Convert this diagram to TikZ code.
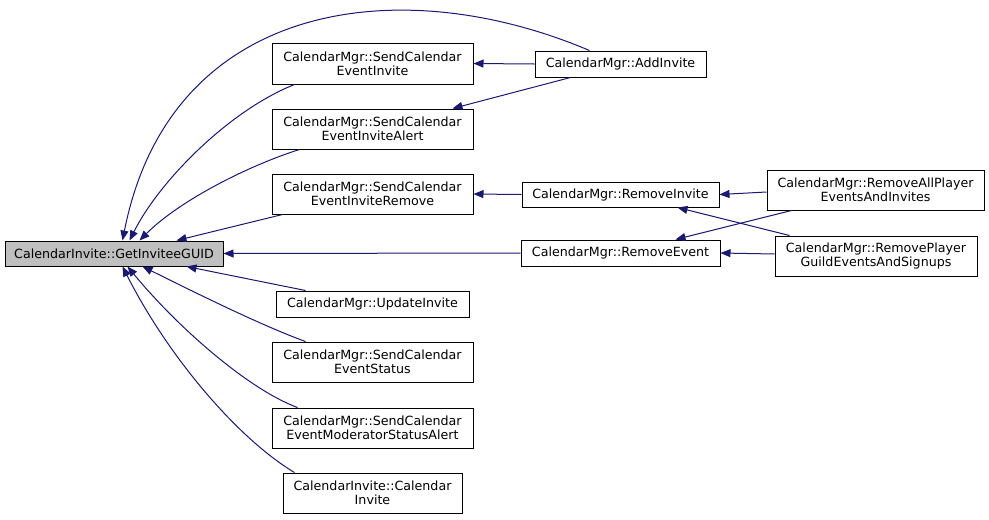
\documentclass[tikz,border=0pt]{standalone}
\usepackage{fontspec}
\setmainfont{DejaVu Sans}
\usetikzlibrary{arrows.meta,calc}
\definecolor{edgeblue}{HTML}{191970}
\definecolor{guidgray}{HTML}{BFBFBF}
\begin{document}
\begin{tikzpicture}[x=0.75pt,y=-0.75pt,
  box/.style={draw=black,line width=0.75pt,align=center,inner sep=0pt,fill=white,
    font=\fontsize{9.5}{10.5}\selectfont},
  edge/.style={draw=edgeblue,line width=0.75pt,-{Triangle[length=7.5pt,width=6pt]}}]
\useasboundingbox (0,0) rectangle (989,519);
% nodes
\node[box,fill=guidgray,minimum width=163.5pt,minimum height=18.75pt] (guid) at (114,253.5) {CalendarInvite::GetInviteeGUID};
\node[box,minimum width=150.75pt,minimum height=30.75pt] (sei) at (372.5,63.5) {CalendarMgr::SendCalendar\\EventInvite};
\node[box,minimum width=150.75pt,minimum height=30pt] (seia) at (372.5,129) {CalendarMgr::SendCalendar\\EventInviteAlert};
\node[box,minimum width=150.75pt,minimum height=30pt] (seir) at (372.5,194) {CalendarMgr::SendCalendar\\EventInviteRemove};
\node[box,minimum width=128.25pt,minimum height=19.5pt] (add) at (620.5,64) {CalendarMgr::AddInvite};
\node[box,minimum width=147.75pt,minimum height=18.75pt] (rinv) at (620.5,194.5) {CalendarMgr::RemoveInvite};
\node[box,minimum width=149.25pt,minimum height=19.5pt] (rev) at (620.5,253) {CalendarMgr::RemoveEvent};
\node[box,minimum width=162.75pt,minimum height=30pt] (rap) at (875.5,190) {CalendarMgr::RemoveAllPlayer\\EventsAndInvites};
\node[box,minimum width=151.5pt,minimum height=30pt] (rpg) at (876,256) {CalendarMgr::RemovePlayer\\GuildEventsAndSignups};
\node[box,minimum width=144.75pt,minimum height=19.5pt] (upd) at (372.5,304) {CalendarMgr::UpdateInvite};
\node[box,minimum width=150.75pt,minimum height=30pt] (ses) at (372.5,362) {CalendarMgr::SendCalendar\\EventStatus};
\node[box,minimum width=150.75pt,minimum height=30pt] (sems) at (372.5,428) {CalendarMgr::SendCalendar\\EventModeratorStatusAlert};
\node[box,minimum width=134.25pt,minimum height=30pt] (ci) at (372.5,493) {CalendarInvite::Calendar\\Invite};
% edges into GetInviteeGUID (top)
\draw[edge] ($(add.north west)+(55,0)$) .. controls (400,-30) and (170,0) .. ($(guid.north west)+(118,0)$);
\draw[edge] ($(sei.south west)+(23,0)$) .. controls (230,110) and (160,180) .. ($(guid.north west)+(125,0)$);
\draw[edge] ($(seia.south west)+(28,0)$) .. controls (250,165) and (180,200) .. ($(guid.north west)+(135,0)$);
\draw[edge] ($(seir.south west)+(11,0)$) -- ($(guid.north west)+(172,0)$);
\draw[edge] (rev.west) -- (guid.east);
% edges into GetInviteeGUID (bottom)
\draw[edge] ($(upd.north west)+(30,0)$) -- ($(guid.south west)+(182,0)$);
\draw[edge] ($(ses.north west)+(34,0)$) .. controls (260,325) and (190,290) .. ($(guid.south west)+(138,0)$);
\draw[edge] ($(sems.north west)+(26,0)$) .. controls (250,390) and (180,330) .. ($(guid.south west)+(123,0)$);
\draw[edge] ($(ci.north west)+(12,0)$) .. controls (240,440) and (170,360) .. ($(guid.south west)+(118,0)$);
% other edges
\draw[edge] (add.west) -- (sei.east);
\draw[edge] ($(add.south west)+(36,0)$) -- ($(seia.north east)+(-21,0)$);
\draw[edge] (rinv.west) -- (seir.east);
\draw[edge] ($(rap.west)+(0,2)$) -- (rinv.east);
\draw[edge] ($(rap.south west)+(25,0)$) -- ($(rev.north east)+(-45,0)$);
\draw[edge] ($(rpg.north west)+(15,0)$) -- ($(rinv.south east)+(-42,0)$);
\draw[edge] ($(rpg.west)+(0,-2)$) -- (rev.east);
\end{tikzpicture}
\end{document}
